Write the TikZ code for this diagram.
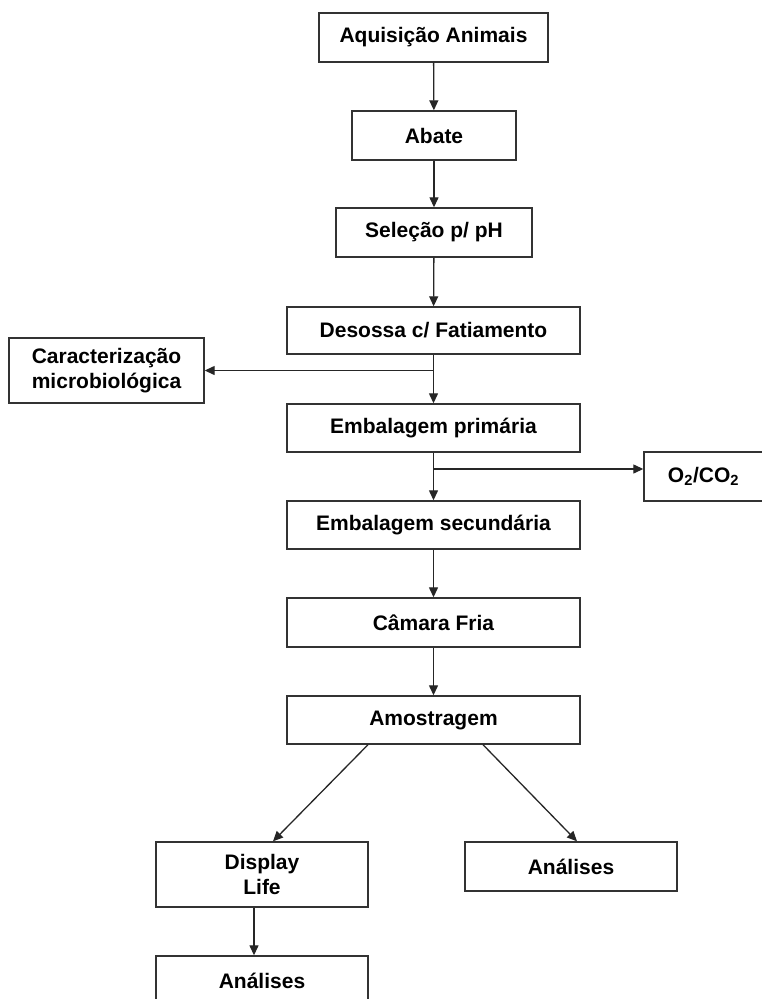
\documentclass[tikz,border=0pt]{standalone}
\usepackage{fontspec}
\setmainfont{Liberation Sans}
\usetikzlibrary{arrows.meta}
\begin{document}
\begin{tikzpicture}[x=1pt,y=-1pt,
  box/.style={draw=black!80,line width=1.4pt,fill=white,inner sep=0pt,align=center,
    font=\fontsize{21}{24.5}\selectfont\bfseries},
  arr/.style={draw=black!85,line width=1.3pt,-{Triangle[length=10pt,width=9pt]}},
  ln/.style={draw=black!85,line width=1.3pt}]
\useasboundingbox (0,0) rectangle (762,999);
\node[box,minimum width=229,minimum height=49] (aq) at (433.5,37.5) {Aquisição Animais};
\node[box,minimum width=164,minimum height=49] (abate) at (434,135.5) {Abate};
\node[box,minimum width=196,minimum height=49] (sel) at (434,232.5) {Seleção p/ pH};
\node[box,minimum width=293,minimum height=47] (deso) at (433.5,330.5) {Desossa c/ Fatiamento};
\node[box,minimum width=195,minimum height=65] (carac) at (106.5,370.5) {Caracterização\\microbiológica};
\node[box,minimum width=293,minimum height=48] (emb1) at (433.5,428) {Embalagem primária};
\node[box,minimum width=121,minimum height=49] (o2) at (704.5,476.5) {\hspace*{-2pt}O\textsubscript{2}/CO\textsubscript{2}};
\node[box,minimum width=293,minimum height=48] (emb2) at (433.5,525) {Embalagem secundária};
\node[box,minimum width=293,minimum height=49] (cam) at (433.5,622.5) {Câmara Fria};
\node[box,minimum width=293,minimum height=48] (amo) at (433.5,720) {Amostragem};
\node[box,minimum width=212,minimum height=65] (disp) at (262,874.5) {Display\\Life};
\node[box,minimum width=212,minimum height=49] (anR) at (571,866.5) {Análises};
\node[box,minimum width=212,minimum height=49] (anB) at (262,980.5) {Análises};
\coordinate (b1) at (433.5,370.5);
\coordinate (b2) at (433.5,469);
\draw[arr] (aq) -- (abate);
\draw[arr] (abate) -- (sel);
\draw[arr] (sel) -- (deso);
\draw[arr] (deso) -- (emb1);
\draw[arr] (b1) -- (carac.east |- b1);
\draw[arr] (emb1) -- (emb2);
\draw[arr] (b2) -- (o2.west |- b2);
\draw[arr] (emb2) -- (cam);
\draw[arr] (cam) -- (amo);
\draw[arr] ([xshift=-65.5pt]amo.south) -- ([xshift=11pt]disp.north);
\draw[arr] ([xshift=49.5pt]amo.south) -- ([xshift=6pt]anR.north);
\draw[arr] ([xshift=-8pt]disp.south) -- ([xshift=-8pt]anB.north);
\end{tikzpicture}
\end{document}
